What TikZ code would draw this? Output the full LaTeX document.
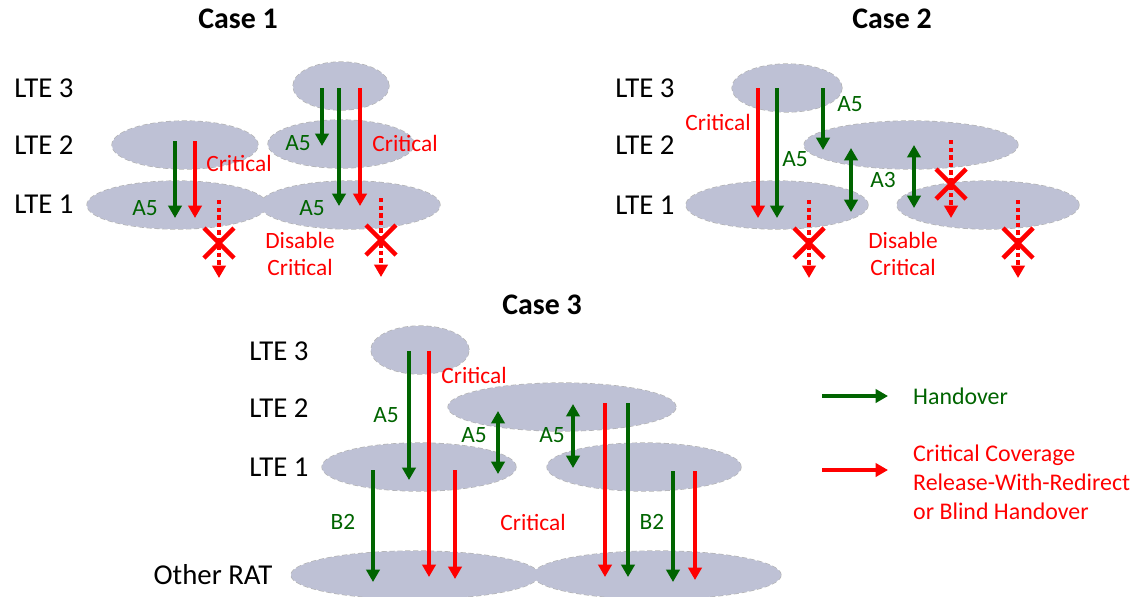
\documentclass[tikz,border=0pt]{standalone}
\usepackage{fontspec}
\setmainfont{Carlito}
\usetikzlibrary{arrows.meta,shapes.geometric}
\definecolor{cellfill}{RGB}{190,193,213}
\definecolor{hogreen}{RGB}{0,100,0}
\definecolor{ccred}{RGB}{255,0,0}

% cells: name / x / y / half width
\def\celllist{c1l3/341/86/48, c1l2a/185/145/73, c1l2b/341/144/73,
  c1l1a/177/205/90, c1l1b/350/205/90,
  c2l3/787/88/55, c2l2/911/145/107, c2l1a/777/205/91, c2l1b/988/205/91,
  c3l3/420/350/49, c3l2/562/407/114, c3l1a/419/467/97, c3l1b/644/467/97,
  c3ra/415/575/124, c3rb/657/575/124}

\begin{document}
\begin{tikzpicture}[x=0.02cm, y=-0.02cm,
    cell/.style={ellipse, inner sep=0pt, minimum height=0.96cm},
    tip/.style={-{Triangle[length=7pt,width=7.5pt]}},
    ho/.style={draw=hogreen, line width=2.6pt, tip},
    hoboth/.style={draw=hogreen, line width=2.6pt,
      {Triangle[length=7pt,width=7.5pt]}-{Triangle[length=7pt,width=7.5pt]}},
    cc/.style={draw=ccred, line width=2.6pt, tip},
    ccoff/.style={draw=ccred, line width=2.6pt, dash pattern=on 2.5pt off 1.8pt, tip},
    xmark/.style={draw=ccred, line width=2.6pt},
    layer/.style={font=\fontsize{16.4}{19}\selectfont},
    casetitle/.style={font=\bfseries\fontsize{17}{20}\selectfont},
    gtxt/.style={text=hogreen, font=\fontsize{13.3}{16}\selectfont},
    rtxt/.style={text=ccred, font=\fontsize{13.3}{15.3}\selectfont, align=center}]
  \path[use as bounding box, clip] (0,0) rectangle (1138,596);

  % dashed rims first, then the fills on top so overlaps merge
  \foreach \n/\x/\y/\r in \celllist
    \node[cell, draw=gray!60, dash pattern=on 3pt off 1.5pt, line width=0.7pt,
      minimum width=\r*0.04cm] (\n) at (\x,\y) {};
  \foreach \n/\x/\y/\r in \celllist
    \node[cell, fill=cellfill, minimum width=\r*0.04cm] at (\x,\y) {};

  % titles and layer names
  \node[casetitle] (t1) at (238,19) {Case 1};
  \node[casetitle] (t2) at (892,19) {Case 2};
  \node[casetitle] (t3) at (542,305) {Case 3};
  \foreach \n/\x/\y/\t in {a3/44/88/LTE 3, a2/44/145/LTE 2, a1/44/204/LTE 1,
      b3/645/88/LTE 3, b2/645/145/LTE 2, b1/645/205/LTE 1,
      d3/279/351/LTE 3, d2/279/408/LTE 2, d1/279/467/LTE 1}
    \node[layer] (\n) at (\x,\y) {\t};
  \node[layer] (d0) at (213,575) {Other RAT};

  % handovers
  \foreach \x/\a/\b in {175/141/218, 322/88/146, 339/88/206,
      777/88/218, 823/88/150,
      409/351/480, 373/470/582, 628/403/577, 673/471/582}
    \draw[ho] (\x,\a) -- (\x,\b);
  \foreach \x/\a/\b in {851/148/212, 914/145/208, 498/411/474, 573/404/468}
    \draw[hoboth] (\x,\a) -- (\x,\b);

  % critical coverage
  \foreach \x/\a/\b in {195/141/218, 360/88/206, 758/88/218,
      429/351/577, 455/470/579, 605/403/577, 695/471/580}
    \draw[cc] (\x,\a) -- (\x,\b);

  % disabled critical, crossed out
  \foreach \x/\a/\b/\c in {219/200/278/243, 381/198/277/240,
      809/200/278/243, 951/140/218/184, 1018/200/278/243} {
    \draw[ccoff] (\x,\a) -- (\x,\b);
    \draw[xmark] (\x-15,\c-15) -- (\x+15,\c+15) (\x-15,\c+15) -- (\x+15,\c-15);
  }

  % event labels
  \foreach \x/\y/\t in {145/208/A5, 298/143/A5, 312/208/A5,
      850/104/A5, 795/159/A5, 883/180/A3,
      386/415/A5, 474/435/A5, 552/435/A5, 343/522/B2, 652/522/B2}
    \node[gtxt] at (\x,\y) {\t};
  \node[rtxt] (r1) at (239,163) {Critical};
  \node[rtxt] (r2) at (405,143) {Critical};
  \node[rtxt] (r3) at (300,254) {Disable\\Critical};
  \node[rtxt] (r4) at (718,122) {Critical};
  \node[rtxt] (r5) at (903,254) {Disable\\Critical};
  \node[rtxt] (r6) at (474,375) {Critical};
  \node[rtxt] (r7) at (533,522) {Critical};

  % legend
  \coordinate (lg1) at (822,396);
  \coordinate (lg2) at (822,470);
  \draw[ho] (lg1) -- ++(66,0);
  \draw[cc] (lg2) -- ++(66,0);
  \node[gtxt, anchor=west, font=\fontsize{13.6}{16.4}\selectfont] (k1) at (907,396) {Handover};
  \node[rtxt, anchor=west, align=left, font=\fontsize{13.6}{16.4}\selectfont] (k2) at (907,482)
    {Critical Coverage\\Release-With-Redirect\\or Blind Handover};
\end{tikzpicture}
\end{document}
